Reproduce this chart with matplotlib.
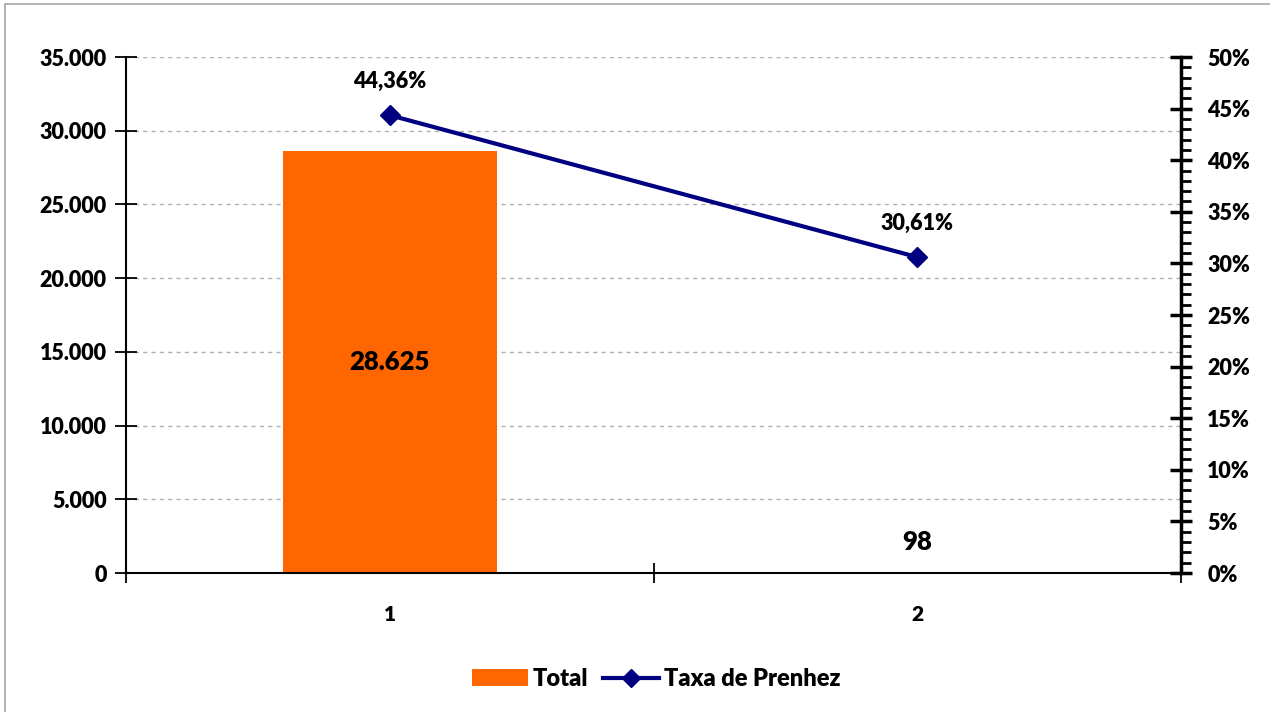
import matplotlib
matplotlib.use("Agg")
import matplotlib.pyplot as plt
from matplotlib.ticker import MultipleLocator, FuncFormatter
from matplotlib.patches import Rectangle
from matplotlib.lines import Line2D

categories = ["1", "2"]
totals = [28625, 98]
taxa = [44.36, 30.61]
total_labels = ["28.625", "98"]
taxa_labels = ["44,36%", "30,61%"]

FW = 'heavy'
plt.rcParams['font.family'] = ['Lato', 'DejaVu Sans']
plt.rcParams['font.weight'] = FW

W, H = 1270, 712
fig = plt.figure(figsize=(W / 100, H / 100), dpi=100)
fig.patch.set_facecolor('white')

# light border (top/left visible)
fig.add_artist(Rectangle((5 / W, -0.1), 1.2, 1 - 4 / H + 0.1, transform=fig.transFigure,
                         fill=False, edgecolor='#a6a6a6', linewidth=1.2))

ax = fig.add_axes([126 / W, 1 - 573 / H, (1181 - 126) / W, (573 - 57) / H])
ax.set_facecolor('none')
x = list(range(len(categories)))

bars = ax.bar(x, totals, width=0.405, color='#FF6600', zorder=2)
ax.set_xlim(-0.5, 1.5)
ax.set_ylim(0, 35000)
ax.yaxis.set_major_locator(MultipleLocator(5000))
ax.yaxis.set_major_formatter(FuncFormatter(lambda v, p: f"{int(v):,}".replace(",", ".")))
ax.grid(axis='y', color='#b0b0b0', linestyle=(0, (3, 3)), linewidth=1.0, zorder=0)
ax.set_axisbelow(True)

for s in ['top', 'right']:
    ax.spines[s].set_visible(False)
ax.spines['left'].set_linewidth(1.5)
ax.spines['bottom'].set_linewidth(1.5)

ax.set_xticks([-0.5, 0.5, 1.5])
ax.set_xticklabels([])
ax.set_xticks(x, minor=True)
ax.set_xticklabels(categories, minor=True)
ax.tick_params(axis='x', which='major', direction='inout', length=14, width=1.3)
ax.tick_params(axis='x', which='minor', length=0, pad=23, labelsize=15)
ax.tick_params(axis='y', direction='inout', length=16, width=1.3, labelsize=15.5, pad=6)
for lab in ax.get_xticklabels(minor=True) + ax.get_yticklabels():
    lab.set_fontweight(FW)

# bar labels
ax.text(x[0], totals[0] / 2, total_labels[0], ha='center', va='center',
        fontsize=18.5, fontweight=FW, zorder=4)
ax.text(x[1], totals[1] + 2000, total_labels[1], ha='center', va='center',
        fontsize=18.5, fontweight=FW, zorder=4)

ax2 = ax.twinx()
ax2.set_ylim(0, 50)
line, = ax2.plot(x, taxa, color='#000080', linewidth=3, marker='D', markersize=10,
                 markerfacecolor='#000080', markeredgecolor='#000080', zorder=5)
ax2.yaxis.set_major_locator(MultipleLocator(5))
ax2.yaxis.set_minor_locator(MultipleLocator(1))
ax2.yaxis.set_major_formatter(FuncFormatter(lambda v, p: f"{int(round(v))}%"))
for s in ['top', 'left', 'bottom']:
    ax2.spines[s].set_visible(False)
ax2.spines['right'].set_linewidth(2.5)
ax2.tick_params(axis='y', which='major', direction='inout', length=16, width=2.5,
                labelsize=15.5, pad=11)
ax2.tick_params(axis='y', which='minor', direction='out', length=7, width=2)
for lab in ax2.get_yticklabels():
    lab.set_fontweight(FW)

for xi, v, lab in zip(x, taxa, taxa_labels):
    ax2.annotate(lab, (xi, v), xytext=(0, 17), textcoords='offset points',
                 ha='center', va='bottom', fontsize=15.5, fontweight=FW)

handles = [Rectangle((0, 0), 1, 1, facecolor='#FF6600'),
           Line2D([], [], color='#000080', linewidth=3, marker='D', markersize=9)]
fig.legend(handles, ['Total', 'Taxa de Prenhez'], loc='center',
           bbox_to_anchor=(656 / W, 1 - 679 / H), ncol=2, frameon=False,
           prop={'size': 17, 'weight': FW}, handlelength=2.4, handleheight=0.75,
           columnspacing=0.6, handletextpad=0.2)

fig.savefig('out.png', dpi=100, facecolor='white')
